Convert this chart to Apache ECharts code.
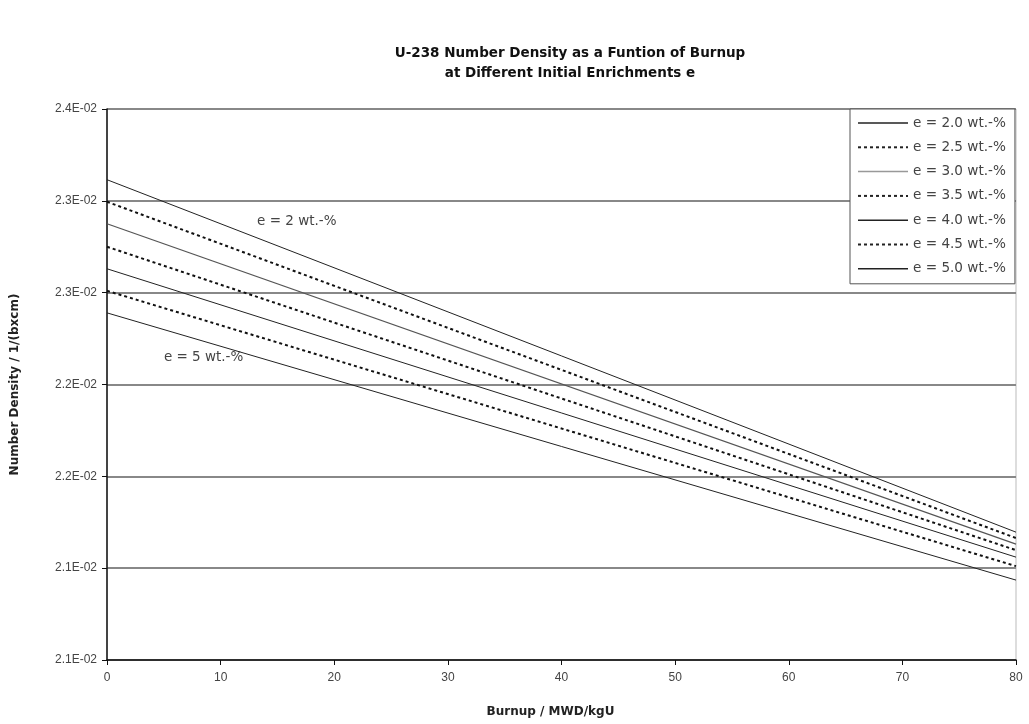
<!DOCTYPE html>
<html>
<head>
<meta charset="utf-8">
<script src="https://cdn.jsdelivr.net/npm/echarts@6/dist/echarts.min.js"></script>
<style>
html,body{margin:0;padding:0;background:#fff;}
#chart{width:1029px;height:724px;}
</style>
</head>
<body>
<div id="chart"></div>
<script>
// Data
const burnup = [0, 80];
const seriesNames = ['e = 2.0 wt.-%', 'e = 2.5 wt.-%', 'e = 3.0 wt.-%', 'e = 3.5 wt.-%', 'e = 4.0 wt.-%', 'e = 4.5 wt.-%', 'e = 5.0 wt.-%'];
const e20 = [0.023115, 0.021196];
const e25 = [0.022995, 0.021164];
const e30 = [0.022875, 0.021131];
const e35 = [0.022750, 0.021098];
const e40 = [0.022630, 0.021060];
const e45 = [0.022510, 0.021011];
const e50 = [0.022390, 0.020935];
const yTickLabels = ['2.1E-02', '2.1E-02', '2.2E-02', '2.2E-02', '2.3E-02', '2.3E-02', '2.4E-02'];
const xTickLabels = ['0', '10', '20', '30', '40', '50', '60', '70', '80'];
const annotations = [
  { text: 'e = 2 wt.-%', x: 16.7, y: 0.022886 },
  { text: 'e = 5 wt.-%', x: 8.5, y: 0.022147 }
];

const allValues = [e20, e25, e30, e35, e40, e45, e50];
const styles = [
  { color: '#222', width: 1, type: 'solid' },
  { color: '#111', width: 2, type: [3, 3] },
  { color: '#555', width: 1.2, type: 'solid' },
  { color: '#111', width: 2, type: [3, 3] },
  { color: '#222', width: 1, type: 'solid' },
  { color: '#111', width: 2, type: [3, 3] },
  { color: '#222', width: 1, type: 'solid' }
];

const FONT = 'Liberation Sans, Arial, sans-serif';
const WFONT = 'DejaVu Sans, sans-serif';
const series = allValues.map((vals, i) => ({
  name: seriesNames[i],
  type: 'line',
  symbol: 'none',
  data: burnup.map((b, j) => [b, vals[j]]),
  lineStyle: { color: styles[i].color, width: styles[i].width, type: styles[i].type },
  itemStyle: { color: styles[i].color },
  animation: false,
  silent: true
}));
series[0].markPoint = {
  symbol: 'circle', symbolSize: 0, silent: true, animation: false,
  label: { show: true, position: 'inside', color: '#444', fontSize: 13.5, fontFamily: WFONT, formatter: p => p.name },
  data: annotations.map(a => ({ name: a.text, coord: [a.x, a.y] }))
};

const legendData = seriesNames.map((n, i) => ({
  name: n,
  lineStyle: { color: i === 2 ? '#999' : '#222', width: styles[i].width === 2 ? 2 : 1.5, type: styles[i].type }
}));

const chart = echarts.init(document.getElementById('chart'), null, { renderer: 'canvas' });
chart.setOption({
  backgroundColor: '#fff',
  animation: false,
  title: {
    text: 'U-238 Number Density as a Funtion of Burnup\nat Different Initial Enrichments e',
    left: 565, top: 38, textAlign: 'center',
    textStyle: { fontFamily: WFONT, fontSize: 13.5, fontWeight: 'bold', color: '#111', lineHeight: 20 }
  },
  legend: {
    orient: 'vertical',
    left: 850, top: 109,
    padding: [7, 9, 8, 7],
    borderColor: '#555', borderWidth: 1,
    backgroundColor: '#fff',
    itemWidth: 50, itemHeight: 14, itemGap: 10.3,
    itemStyle: { color: 'rgba(0,0,0,0)', borderColor: 'rgba(0,0,0,0)', borderWidth: 0 },
    textStyle: { fontFamily: WFONT, fontSize: 13.6, color: '#444', width: 100 },
    data: legendData
  },
  grid: { left: 107, right: 13, top: 109, bottom: 64, show: true, borderColor: '#bbb', borderWidth: 1, outerBoundsMode: 'none', containLabel: false },
  xAxis: {
    type: 'value', min: 0, max: 80, interval: 10,
    name: 'Burnup / MWD/kgU', nameLocation: 'middle', nameGap: 46,
    nameTextStyle: { fontFamily: WFONT, fontSize: 12, fontWeight: 'bold', color: '#222', padding: [0, 22, 0, 0] },
    axisLine: { show: true, lineStyle: { color: '#111', width: 1.5 } },
    axisTick: { show: true, length: 5, lineStyle: { color: '#111' } },
    axisLabel: { fontFamily: FONT, fontSize: 12, color: '#444', margin: 12, formatter: (v, i) => xTickLabels[i] },
    splitLine: { show: false }
  },
  yAxis: {
    type: 'value', min: 0.0205, max: 0.0235, interval: 0.0005,
    name: 'Number Density / 1/(bxcm)', nameLocation: 'middle', nameGap: 86, nameRotate: 90,
    nameTextStyle: { fontFamily: WFONT, fontSize: 12, fontWeight: 'bold', color: '#222' },
    axisLine: { show: true, lineStyle: { color: '#111', width: 1.5 } },
    axisTick: { show: true, length: 5, lineStyle: { color: '#111' } },
    axisLabel: { fontFamily: FONT, fontSize: 12, color: '#444', margin: 10, formatter: (v, i) => yTickLabels[i] },
    splitLine: { show: true, lineStyle: { color: '#888', width: 2 } }
  },
  series: series
});
</script>
</body>
</html>
